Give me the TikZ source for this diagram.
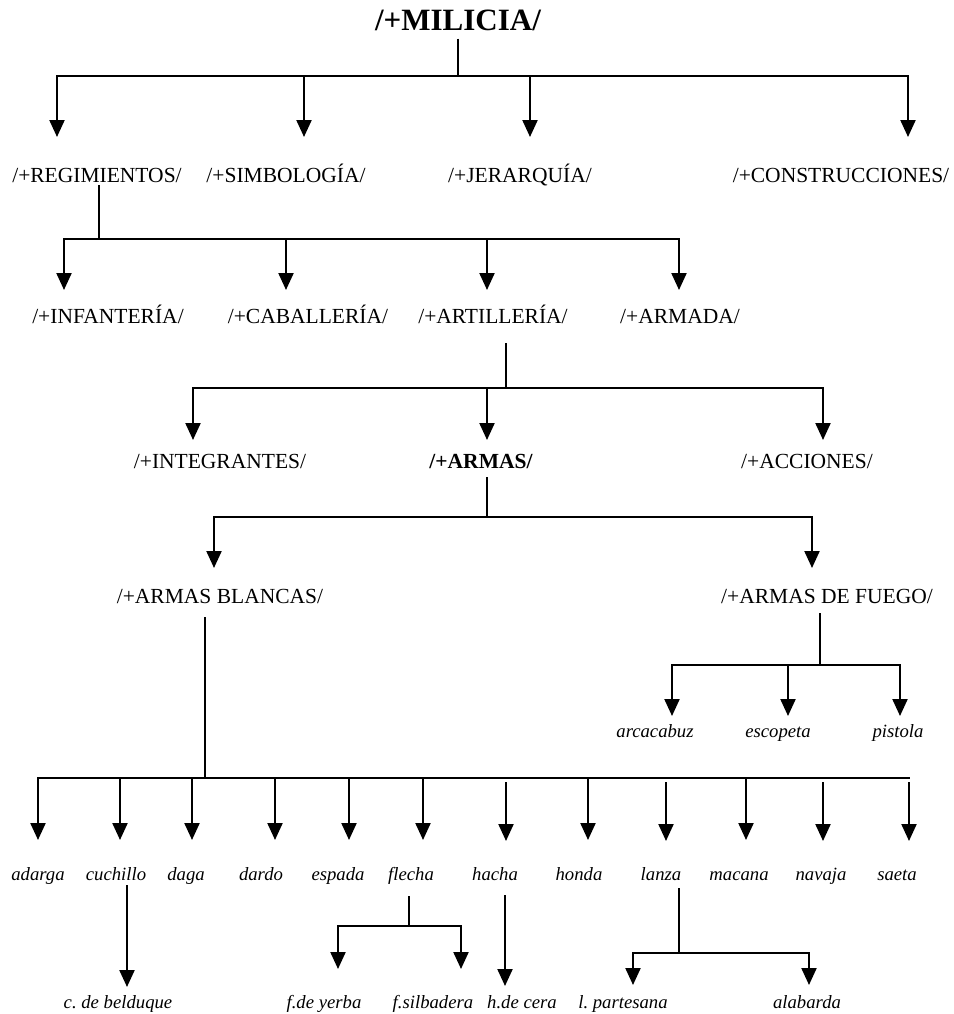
\documentclass[tikz,border=0pt]{standalone}
\usepackage{fontspec}
\setmainfont{Liberation Serif}
\usetikzlibrary{arrows.meta}
\begin{document}
\begin{tikzpicture}[x=1bp,y=-1bp,
  head/.style={font=\bfseries\fontsize{31bp}{36bp}\selectfont, anchor=base, inner sep=0pt},
  lbl/.style={font=\fontsize{21.5bp}{25bp}\selectfont, anchor=base, inner sep=0pt},
  blbl/.style={font=\bfseries\fontsize{21.5bp}{25bp}\selectfont, anchor=base, inner sep=0pt},
  item/.style={font=\itshape\fontsize{18.7bp}{22bp}\selectfont, anchor=base, inner sep=0pt},
  stem/.style={line width=1.4bp},
  bar/.style={line width=2.2bp, line cap=rect},
  arr/.style={line width=2.2bp, -{Triangle[length=17bp,width=15bp]}}]
\useasboundingbox (0,0) rectangle (954,1014);

% ---- root ----
\node[head] (mil) at (458,30) {/+MILICIA/};
\coordinate (j0) at (458,76);
\draw[stem, shorten <=8bp] (mil.south -| j0) -- (j0);
\draw[bar] (57,76) -- (908,76);
\foreach \x in {57,304,530,908} \draw[arr] (\x,76) -- (\x,137);

\node[lbl] (reg) at (97,182)  {/+REGIMIENTOS/};
\node[lbl] (sim) at (286,182) {/+SIMBOLOGÍA/};
\node[lbl] (jer) at (520,182) {/+JERARQUÍA/};
\node[lbl] (con) at (841,182) {/+CONSTRUCCIONES/};

% ---- regimientos ----
\coordinate (j1) at (99,239);
\draw[stem, shorten <=3bp] (reg.south -| j1) -- (j1);
\draw[bar] (64,239) -- (679,239);
\foreach \x in {64,286,487,679} \draw[arr] (\x,239) -- (\x,290);

\node[lbl] (inf) at (108,323) {/+INFANTERÍA/};
\node[lbl] (cab) at (308,323) {/+CABALLERÍA/};
\node[lbl] (art) at (493,323) {/+ARTILLERÍA/};
\node[lbl] (arm) at (680,323) {/+ARMADA/};

% ---- artilleria ----
\coordinate (j2) at (506,388);
\draw[stem, shorten <=20bp] (art.south -| j2) -- (j2);
\draw[bar] (193,388) -- (823,388);
\foreach \x in {193,487,823} \draw[arr] (\x,388) -- (\x,440);

\node[lbl]  (int)   at (220,468) {/+INTEGRANTES/};
\node[blbl] (armas) at (481,468) {/+ARMAS/};
\node[lbl]  (acc)   at (807,468) {/+ACCIONES/};

% ---- armas ----
\coordinate (j3) at (487,517);
\draw[stem, shorten <=9bp] (armas.south -| j3) -- (j3);
\draw[bar] (214,517) -- (812,517);
\foreach \x in {214,812} \draw[arr] (\x,517) -- (\x,568);

\node[lbl] (bla) at (220,603) {/+ARMAS BLANCAS/};
\node[lbl] (fue) at (827,603) {/+ARMAS DE FUEGO/};

% ---- armas de fuego ----
\coordinate (j4) at (820,665);
\draw[stem, shorten <=10bp] (fue.south -| j4) -- (j4);
\draw[bar] (672,665) -- (900,665);
\foreach \x in {672,788,900} \draw[arr] (\x,665) -- (\x,716);
\node[item] (arc) at (655,737) {arcacabuz};
\node[item] (esc) at (778,737) {escopeta};
\node[item] (pis) at (898,737) {pistola};

% ---- armas blancas ----
\coordinate (j5) at (205,778);
\draw[stem, shorten <=14bp] (bla.south -| j5) -- (j5);
\draw[bar] (38,778) -- (909,778);
\foreach \x in {38,120,192,275,349,423,588,746} \draw[arr] (\x,778) -- (\x,840);
\foreach \x in {506,666,823,909} \draw[arr] (\x,782) -- (\x,841);

\foreach \x/\n/\t in {38/ada/adarga,116/cuc/cuchillo,186/dag/daga,261/dar/dardo,
    338/esp/espada,411/fle/flecha,495/hac/hacha,579/hon/honda,661/lan/lanza,
    739/mac/macana,821/nav/navaja,897/sae/saeta}
  \node[item] (\n) at (\x,880) {\t};

% ---- cuchillo ----
\coordinate (k1) at (127,987);
\draw[arr, shorten <=5bp] (cuc.south -| k1) -- (k1);
\node[item] (bel) at (118,1008) {c.\ de belduque};

% ---- flecha ----
\coordinate (j6) at (409,926);
\draw[stem, line width=1.8bp, shorten <=12bp] (fle.south -| j6) -- (j6);
\draw[bar] (338,926) -- (461,926);
\foreach \x in {338,461} \draw[arr] (\x,926) -- (\x,969);
\node[item] (fyer) at (324,1008) {f.de yerba};
\node[item] (fsil) at (433,1008) {f.silbadera};

% ---- hacha ----
\coordinate (k2) at (505,986);
\draw[arr, shorten <=15bp] (hac.south -| k2) -- (k2);
\node[item] (hcer) at (522,1008) {h.de cera};

% ---- lanza ----
\coordinate (j7) at (679,953);
\draw[stem, line width=1.8bp, shorten <=8bp] (lan.south -| j7) -- (j7);
\draw[bar] (633,953) -- (809,953);
\foreach \x in {633,809} \draw[arr] (\x,953) -- (\x,985);
\node[item] (lpar) at (623,1008) {l.\ partesana};
\node[item] (ala)  at (807,1008) {alabarda};
\end{tikzpicture}
\end{document}
